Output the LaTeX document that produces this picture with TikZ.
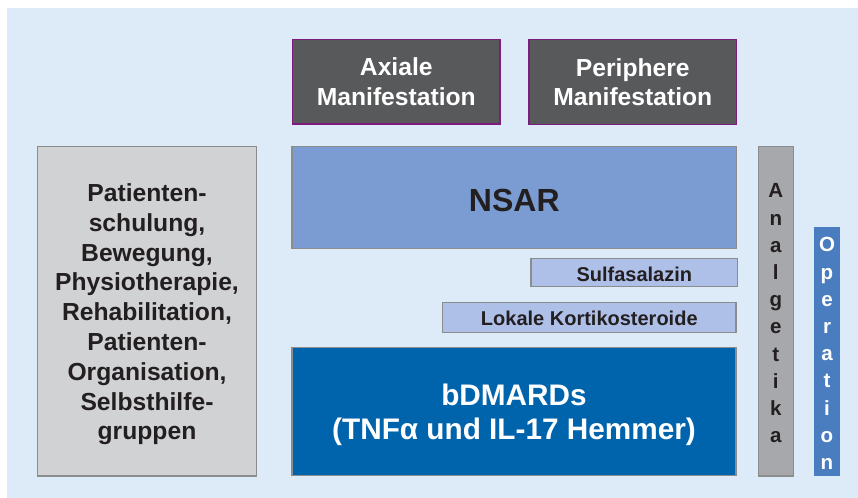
\documentclass[tikz,border=0pt]{standalone}
\usepackage{fontspec}
\setmainfont{Liberation Sans}
\definecolor{bgc}{HTML}{DDEBF8}
\definecolor{darkc}{HTML}{58595B}
\definecolor{purp}{HTML}{7B1C7E}
\definecolor{nsarc}{HTML}{7B9CD2}
\definecolor{lightc}{HTML}{AFC0E8}
\definecolor{bdmc}{HTML}{0064AD}
\definecolor{analc}{HTML}{A7A8AB}
\definecolor{opc}{HTML}{4A7DC0}
\definecolor{leftc}{HTML}{D1D2D4}
\definecolor{edgec}{HTML}{8A8C8E}
\definecolor{txt}{HTML}{231F20}
\tikzset{
  box/.style={rectangle, inner sep=0pt, line width=0.9pt, draw=edgec},
  lbl/.style={inner sep=0pt, align=center, font=\bfseries, text=txt},
  manbox/.style={box, fill=darkc, draw=purp},
  manlbl/.style={lbl, text=white, font=\bfseries\fontsize{18.5}{22}\selectfont},
  smalllbl/.style={lbl, font=\bfseries\fontsize{15}{18}\selectfont},
  stacklbl/.style={lbl, font=\bfseries\fontsize{15.4}{20.4}\selectfont},
}
\begin{document}
\begin{tikzpicture}[x=0.75pt,y=-0.75pt]
\useasboundingbox (0,0) rectangle (858,498);
\fill[bgc] (7,8) rectangle (858,498);
% boxes
\node[manbox, minimum width=207.3*0.75pt, minimum height=84.7*0.75pt] (ax) at (396.3,81.7) {};
\node[manbox, minimum width=207.7*0.75pt, minimum height=84.6*0.75pt] (per) at (632.8,82) {};
\node[box, fill=nsarc, minimum width=444.7*0.75pt, minimum height=101.6*0.75pt] (nsar) at (514.3,197.5) {};
\node[box, fill=lightc, minimum width=206.7*0.75pt, minimum height=28*0.75pt] (sulfa) at (634.3,272.7) {};
\node[box, fill=lightc, minimum width=293.3*0.75pt, minimum height=30.4*0.75pt] (lokal) at (589.3,317.5) {};
\node[box, fill=bdmc, minimum width=444*0.75pt, minimum height=128*0.75pt] (bdm) at (514,411.7) {};
\node[box, fill=analc, minimum width=35*0.75pt, minimum height=329.3*0.75pt] (anal) at (775.8,311.3) {};
\node[box, draw=none, fill=opc, minimum width=26*0.75pt, minimum height=248.4*0.75pt] (op) at (827,351.5) {};
\node[box, fill=leftc, minimum width=219.4*0.75pt, minimum height=329.3*0.75pt] (left) at (147,311.3) {};
% labels
\node[manlbl] (axt) at (ax.center) {Axiale\\Manifestation};
\node[manlbl] (pert) at (per.center) {Periphere\\Manifestation};
\node[lbl, font=\bfseries\fontsize{24}{28}\selectfont] (nsart) at ([yshift=-2.6pt]nsar.center) {NSAR};
\node[smalllbl] (sulfat) at ([yshift=-1.1pt]sulfa.center) {Sulfasalazin};
\node[smalllbl] (lokalt) at ([yshift=-1pt]lokal.center) {Lokale Kortikosteroide};
\node[lbl, text=white, font=\bfseries\fontsize{22.3}{25.5}\selectfont] (bdmt) at ([yshift=-2pt]bdm.center) {bDMARDs\\(TNFα und IL-17 Hemmer)};
\node[stacklbl] (analt) at ([yshift=-1.5pt]anal.center) {A\\n\\a\\l\\g\\e\\t\\i\\k\\a};
\node[stacklbl, text=white] (opt) at ([yshift=-1.5pt]op.center) {O\\p\\e\\r\\a\\t\\i\\o\\n};
\node[lbl, font=\bfseries\fontsize{18.5}{22.35}\selectfont] (leftt) at ([yshift=-2.25pt]left.center) {Patienten-\\schulung,\\Bewegung,\\Physiotherapie,\\Rehabilitation,\\Patienten-\\Organisation,\\Selbsthilfe-\\gruppen};
\end{tikzpicture}
\end{document}
